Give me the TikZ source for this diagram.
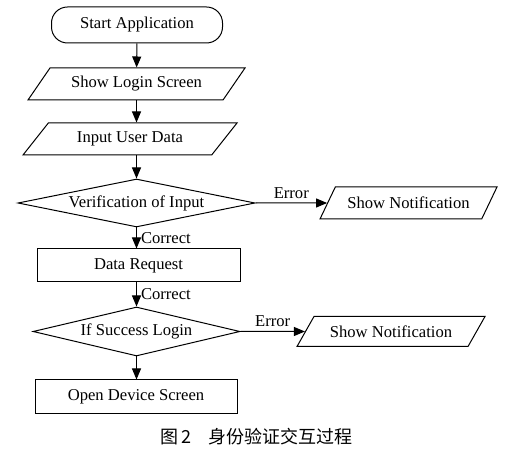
\documentclass[tikz,border=0pt]{standalone}
\usepackage{fontspec}
\setmainfont{Liberation Serif}
\newfontfamily\cjk{Noto Sans CJK SC}
\usetikzlibrary{shapes.geometric,arrows.meta}

\begin{document}
\begin{tikzpicture}[x=0.5pt, y=-0.5pt, line width=0.5pt,
  font=\fontsize{8.3}{10}\selectfont,
  term/.style={draw, rounded corners=8pt, minimum width=85.5pt, minimum height=18pt},
  io/.style={draw, trapezium, trapezium stretches body, inner sep=1pt, minimum height=16pt},
  decide/.style={draw, diamond, aspect=5, inner sep=0pt},
  proc/.style={draw, minimum height=16.5pt},
  flow/.style={-{Triangle[length=5.5pt,width=4.5pt]}},
  tag/.style={inner sep=2pt}]
\useasboundingbox (0,0) rectangle (513,453);
% main column, everything hangs on x = 137
\node[term] (start) at (137,25) {Start Application};
\node[io, trapezium left angle=41, trapezium right angle=139, minimum width=108.5pt]
  (login) at (136.5,84) {Show Login Screen};
\node[io, trapezium left angle=36, trapezium right angle=144, minimum width=107pt]
  (input) at (130,139) {Input User Data};
\node[decide, minimum width=118.5pt, minimum height=24pt]
  (verify) at (136.5,203) {Verification of Input};
\node[proc, minimum width=101.5pt] (request) at (138.5,265.5) {Data Request};
\node[decide, minimum width=103.5pt, minimum height=24.5pt]
  (success) at (136.5,331.5) {If Success Login};
\node[proc, minimum width=101pt] (device) at (136,396.5) {Open Device Screen};
% error branches on the right
\node[io, trapezium left angle=46, trapezium right angle=134, minimum width=88.5pt]
  (notify1) at (408.5,203) {Show Notification};
\node[io, trapezium left angle=43, trapezium right angle=137, minimum width=94pt, minimum height=15pt]
  (notify2) at (391,331.5) {Show Notification};
% connectors
\draw[flow] (start) -- (login);
\draw[flow] (login.south) -- (login.south |- input.north);
\draw[flow] (input.south -| verify.north) -- (verify.north);
\draw[flow] (verify.south) -- (verify.south |- request.north)
  node[tag, right, midway] {Correct};
\draw[flow] (request.south -| success.north) -- (success.north)
  node[tag, right, midway] {Correct};
\draw[flow] (success.south) -- (success.south |- device.north);
\draw[flow] (verify) -- (notify1) node[tag, above, midway] {Error};
\draw[flow] (success) -- (notify2) node[tag, above, midway] {Error};
% caption
\node (caption) at (256.5,437) {\cjk\fontsize{9}{11}\selectfont 图\,2\hspace{0.9em}身份验证交互过程};
\end{tikzpicture}
\end{document}
